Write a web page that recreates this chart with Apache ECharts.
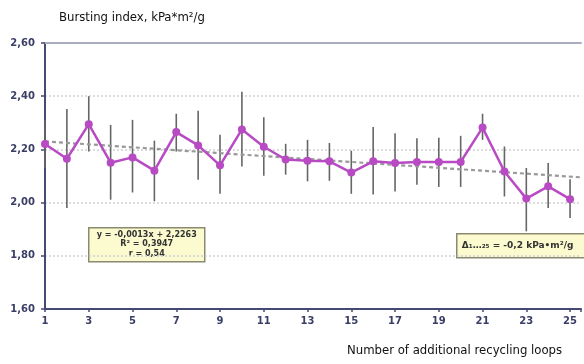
<!DOCTYPE html>
<html>
<head>
<meta charset="utf-8">
<script src="https://cdn.jsdelivr.net/npm/echarts@6/dist/echarts.min.js"></script>
<style>
  html, body { margin: 0; padding: 0; background: #fff; }
  #chart { width: 584px; height: 364px; }
</style>
</head>
<body>
<div id="chart"></div>
<script>
// recycling loop number
const loops = [1, 2, 3, 4, 5, 6, 7, 8, 9, 10, 11, 12, 13, 14, 15, 16, 17, 18, 19, 20, 21, 22, 23, 24, 25];
// mean bursting index
const meanValues = [2.22, 2.165, 2.295, 2.15, 2.17, 2.12, 2.265, 2.215, 2.14, 2.275, 2.21, 2.162, 2.157, 2.155, 2.113, 2.155, 2.149, 2.153, 2.153, 2.153, 2.282, 2.117, 2.015, 2.061, 2.013];
// error bar ends
const lowValues = [2.13, 1.98, 2.192, 2.011, 2.038, 2.005, 2.192, 2.086, 2.033, 2.136, 2.101, 2.105, 2.08, 2.082, 2.033, 2.03, 2.042, 2.067, 2.059, 2.059, 2.236, 2.023, 1.892, 1.98, 1.942];
const highValues = [2.31, 2.352, 2.40, 2.292, 2.311, 2.233, 2.334, 2.345, 2.255, 2.417, 2.321, 2.221, 2.236, 2.224, 2.195, 2.284, 2.261, 2.242, 2.244, 2.251, 2.334, 2.211, 2.13, 2.149, 2.088];
// dashed trend line, end points
const trendX = [1, 25.5];
const trendY = [2.23, 2.095];

const axisColor = '#454a72';
const labelColor = '#3a3e66';
const lineColor = '#b84bc4';

const chart = echarts.init(document.getElementById('chart'));

const fmt = v => v.toFixed(2).replace('.', ',');

const option = {
  animation: false,
  backgroundColor: '#fff',
  grid: { left: 45, right: 0, top: 43, bottom: 55 },
  xAxis: [
    {
      type: 'value',
      min: 1,
      max: 25.5,
      interval: 2,
      axisLine: { lineStyle: { color: axisColor, width: 2 } },
      axisTick: { show: true, length: 3, lineStyle: { color: axisColor, width: 1.5 } },
      axisLabel: {
        color: labelColor,
        fontWeight: 'bold',
        fontSize: 10,
        fontFamily: 'DejaVu Sans',
        margin: 7,
        formatter: v => (v % 2 === 1 ? String(v) : '')
      },
      splitLine: { show: false }
    },
    {
      type: 'value',
      position: 'top',
      min: 1,
      max: 25.5,
      axisLine: { show: true, lineStyle: { color: '#a9adbf', width: 2 } },
      axisTick: { show: false },
      axisLabel: { show: false },
      splitLine: { show: false }
    }
  ],
  yAxis: {
    type: 'value',
    min: 1.6,
    max: 2.6,
    interval: 0.2,
    axisLine: { show: true, lineStyle: { color: axisColor, width: 2 } },
    axisTick: { show: true, length: 4, lineStyle: { color: axisColor, width: 1.5 } },
    axisLabel: {
      color: labelColor,
      fontWeight: 'bold',
      fontSize: 10,
      fontFamily: 'DejaVu Sans',
      margin: 10,
      formatter: fmt
    },
    splitLine: { show: true, lineStyle: { color: '#cfcfd6', type: [2, 2], width: 1.5 } }
  },
  series: [
    {
      type: 'custom',
      z: 1,
      data: loops.map((x, i) => [x, lowValues[i], highValues[i]]),
      renderItem: (params, api) => {
        const p1 = api.coord([api.value(0), api.value(1)]);
        const p2 = api.coord([api.value(0), api.value(2)]);
        return {
          type: 'line',
          shape: { x1: p1[0], y1: p1[1], x2: p2[0], y2: p2[1] },
          style: { stroke: '#666', lineWidth: 1.6 }
        };
      }
    },
    {
      type: 'line',
      z: 2,
      data: trendX.map((x, i) => [x, trendY[i]]),
      symbol: 'none',
      lineStyle: { color: '#999', width: 2.2, type: [4, 3] }
    },
    {
      type: 'line',
      z: 3,
      data: loops.map((x, i) => [x, meanValues[i]]),
      symbol: 'circle',
      symbolSize: 8,
      itemStyle: { color: lineColor },
      lineStyle: { color: lineColor, width: 2.5 }
    }
  ],
  graphic: [
    {
      type: 'text',
      left: 59,
      top: 11,
      style: {
        text: 'Bursting index, kPa*m²/g',
        fill: '#111',
        font: '13px "Liberation Sans Narrow", "DejaVu Sans Condensed", sans-serif'
      }
    },
    {
      type: 'text',
      left: 347,
      top: 344,
      style: {
        text: 'Number of additional recycling loops',
        fill: '#111',
        font: '13px "Liberation Sans Narrow", "DejaVu Sans Condensed", sans-serif'
      }
    },
    {
      type: 'group',
      left: 88,
      top: 227,
      children: [
        {
          type: 'rect',
          shape: { x: 0, y: 0, width: 116, height: 34 },
          style: { fill: '#fbfbcf', stroke: '#8a8a70', lineWidth: 1.5 }
        },
        {
          type: 'text',
          x: 58,
          y: 2,
          style: {
            text: 'y = -0,0013x + 2,2263\nR² = 0,3947\nr = 0,54',
            align: 'center',
            fill: '#333',
            lineHeight: 9.5,
            font: 'bold 8px "DejaVu Sans", sans-serif'
          }
        }
      ]
    },
    {
      type: 'group',
      left: 456,
      top: 233,
      children: [
        {
          type: 'rect',
          shape: { x: 0, y: 0, width: 132, height: 24 },
          style: { fill: '#fbfbcf', stroke: '#8a8a70', lineWidth: 1.5 }
        },
        {
          type: 'text',
          x: 5,
          y: 7,
          style: {
            text: 'Δ₁…₂₅ = -0,2 kPa•m²/g',
            fill: '#333',
            font: 'bold 9px "DejaVu Sans", sans-serif'
          }
        }
      ]
    }
  ]
};

chart.setOption(option);
</script>
</body>
</html>
